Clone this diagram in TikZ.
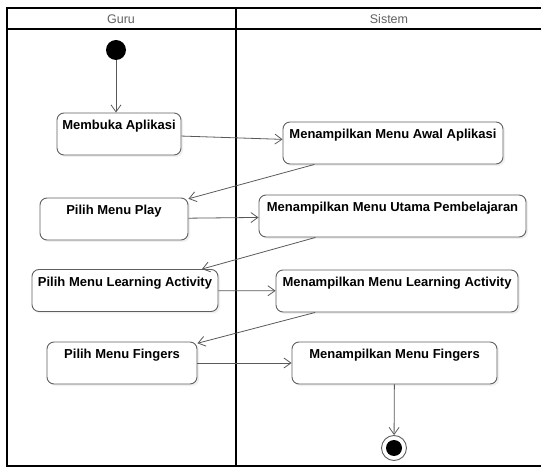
\documentclass[tikz,border=0pt]{standalone}
\usepackage{fontspec}
\setmainfont{Liberation Sans}
\usetikzlibrary{arrows.meta,shadows}

\begin{document}
\begin{tikzpicture}[x=1pt,y=-1pt,
    lane/.style={line width=1.8pt},
    head/.style={text=gray!75!black,font=\fontsize{12.5}{14}\selectfont},
    act/.style={draw=gray!75!black,line width=0.9pt,rounded corners=7pt,fill=white,
      drop shadow={opacity=0.12,shadow xshift=2pt,shadow yshift=-2pt},
      font=\bfseries\fontsize{13}{15}\selectfont,
      text height=13pt,text depth=21pt,inner ysep=4pt},
    flow/.style={draw=gray!70!black,line width=0.8pt,-{Straight Barb[length=7pt,width=10pt]}}]
  \useasboundingbox (0,0) rectangle (541,470);
  % swimlanes
  \draw[lane] (545,8) -- (7,8) -- (7,466) -- (545,466);
  \draw[lane] (7,29) -- (545,29);
  \draw[line width=1.4pt] (236,8) -- (236,466);
  \node[head] (guru) at (121,19) {Guru};
  \node[head] (sistem) at (389,19) {Sistem};
  % start / end
  \node[circle,fill=black,minimum size=20pt,inner sep=0pt] (start) at (116,50) {};
  \node[circle,draw=gray!75!black,fill=white,line width=0.9pt,minimum size=25pt,inner sep=0pt] (stop) at (394,448) {};
  \fill (stop) circle (8pt);
  % activities
  \node[act,minimum width=124pt] (buka) at (119,134) {Membuka Aplikasi};
  \node[act,minimum width=220pt] (awal) at (393,143) {Menampilkan Menu Awal Aplikasi};
  \node[act,minimum width=148pt] (play) at (114,219) {Pilih Menu Play};
  \node[act,minimum width=267pt] (utama) at (392.5,216) {Menampilkan Menu Utama Pembelajaran};
  \node[act,minimum width=186pt] (learn) at (125,290.5) {Pilih Menu Learning Activity};
  \node[act,minimum width=242pt] (mlearn) at (397,291) {Menampilkan Menu Learning Activity};
  \node[act,minimum width=150pt] (finger) at (122,363) {Pilih Menu Fingers};
  \node[act,minimum width=205pt] (mfinger) at (394.5,363) {Menampilkan Menu Fingers};
  % flows
  \draw[flow] (start) -- (start |- buka.north);
  \draw[flow] (buka) -- (awal);
  \draw[flow] (awal) -- (play);
  \draw[flow] (play) -- (utama);
  \draw[flow] (utama) -- (learn);
  \draw[flow] (learn) -- (mlearn);
  \draw[flow] (mlearn) -- (finger);
  \draw[flow] (finger) -- (mfinger);
  \draw[flow] (mfinger) -- (stop);
\end{tikzpicture}
\end{document}
